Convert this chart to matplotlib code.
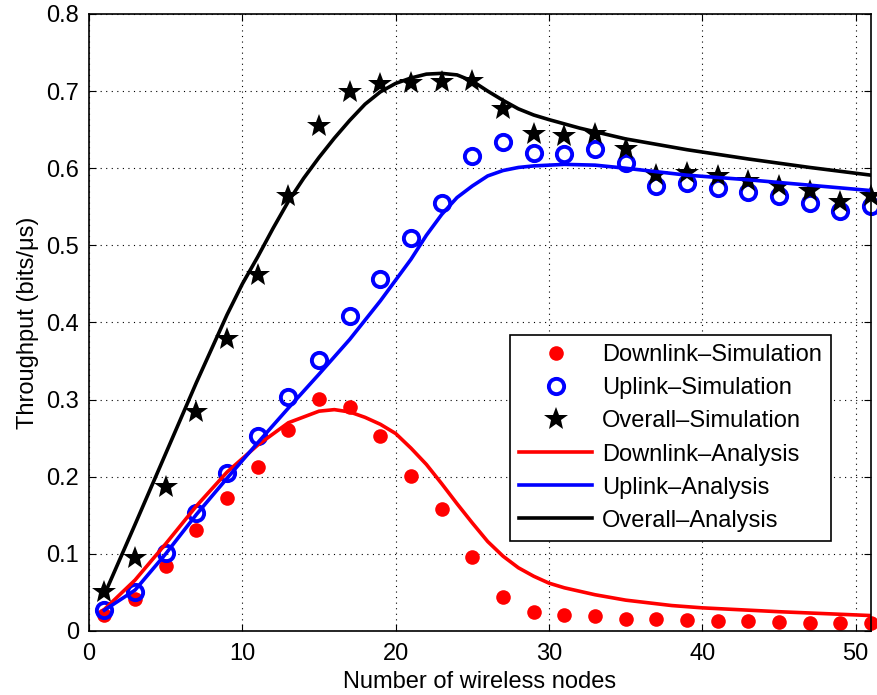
import matplotlib
matplotlib.use("Agg")
import matplotlib.pyplot as plt
from matplotlib.ticker import FuncFormatter

# simulation points (odd node counts)
sim_nodes = [1, 3, 5, 7, 9, 11, 13, 15, 17, 19, 21, 23, 25,
             27, 29, 31, 33, 35, 37, 39, 41, 43, 45, 47, 49, 51]
downlink_sim = [0.021, 0.042, 0.084, 0.131, 0.173, 0.212, 0.260, 0.301, 0.291,
                0.253, 0.201, 0.158, 0.096, 0.044, 0.025, 0.021, 0.019, 0.016,
                0.015, 0.014, 0.013, 0.013, 0.012, 0.011, 0.010, 0.010]
uplink_sim = [0.027, 0.051, 0.101, 0.153, 0.205, 0.253, 0.303, 0.352, 0.409,
              0.456, 0.509, 0.555, 0.616, 0.634, 0.620, 0.619, 0.625, 0.607,
              0.577, 0.581, 0.575, 0.569, 0.564, 0.555, 0.544, 0.551]
overall_sim = [0.051, 0.094, 0.187, 0.284, 0.378, 0.462, 0.564, 0.655, 0.699,
               0.709, 0.711, 0.712, 0.713, 0.677, 0.645, 0.642, 0.645, 0.625,
               0.591, 0.594, 0.590, 0.583, 0.577, 0.570, 0.556, 0.564]

# analysis curves
dl_nodes = [1, 3, 5, 7, 9, 11, 13, 15, 16, 17, 18, 19, 20, 21, 22, 23, 24, 25,
            26, 27, 28, 29, 30, 31, 33, 35, 38, 40, 45, 51]
downlink_ana = [0.028, 0.066, 0.113, 0.162, 0.206, 0.241, 0.270, 0.285, 0.287,
                0.284, 0.277, 0.268, 0.256, 0.237, 0.216, 0.191, 0.165, 0.140,
                0.116, 0.097, 0.082, 0.071, 0.062, 0.056, 0.047, 0.040, 0.033,
                0.030, 0.025, 0.020]
ul_nodes = [1, 3, 5, 7, 9, 11, 13, 15, 17, 19, 20, 21, 22, 23, 24, 25, 26, 27,
            28, 29, 31, 33, 35, 39, 43, 47, 51]
uplink_ana = [0.027, 0.053, 0.100, 0.151, 0.198, 0.244, 0.289, 0.333, 0.378,
              0.428, 0.455, 0.482, 0.513, 0.540, 0.562, 0.577, 0.590, 0.597,
              0.601, 0.603, 0.605, 0.604, 0.600, 0.591, 0.585, 0.578, 0.571]
ov_nodes = [1, 3, 5, 7, 9, 10, 11, 12, 13, 14, 15, 16, 17, 18, 19, 20, 21, 22,
            23, 24, 25, 26, 27, 28, 29, 30, 32, 35, 39, 43, 47, 51]
overall_ana = [0.047, 0.138, 0.230, 0.322, 0.410, 0.450, 0.485, 0.522, 0.557,
               0.587, 0.614, 0.639, 0.662, 0.683, 0.699, 0.710, 0.717, 0.722,
               0.723, 0.721, 0.713, 0.700, 0.688, 0.677, 0.669, 0.663, 0.652,
               0.638, 0.624, 0.612, 0.601, 0.591]

plt.rcParams["font.family"] = ["Liberation Sans", "DejaVu Sans"]
FS = 17

fig = plt.figure(figsize=(8.77, 6.95), dpi=100)
ax = fig.add_axes([0.1015, 0.0921, 0.8917, 0.8878])

ax.plot(sim_nodes, downlink_sim, "o", color="red", markersize=10.5,
        markeredgewidth=0, linestyle="none", clip_on=False,
        label="Downlink\u2013Simulation")
ax.plot(sim_nodes, uplink_sim, "o", color="blue", markerfacecolor="none",
        markersize=11, markeredgewidth=2.8, linestyle="none", clip_on=False,
        label="Uplink\u2013Simulation")
ax.plot(sim_nodes, overall_sim, "*", color="black", markersize=18,
        markeredgewidth=0, linestyle="none", clip_on=False,
        label="Overall\u2013Simulation")
ax.plot(dl_nodes, downlink_ana, "-", color="red", linewidth=2.6,
        label="Downlink\u2013Analysis")
ax.plot(ul_nodes, uplink_ana, "-", color="blue", linewidth=2.6,
        label="Uplink\u2013Analysis")
ax.plot(ov_nodes, overall_ana, "-", color="black", linewidth=2.6,
        label="Overall\u2013Analysis")

ax.set_xlim(0, 51)
ax.set_ylim(0, 0.8)
ax.set_xticks([0, 10, 20, 30, 40, 50])
ax.set_yticks([0, 0.1, 0.2, 0.3, 0.4, 0.5, 0.6, 0.7, 0.8])
ax.yaxis.set_major_formatter(FuncFormatter(lambda v, p: "0" if v == 0 else f"{v:g}"))
ax.tick_params(direction="in", top=True, right=True, labelsize=FS,
               length=5, width=0.8)
ax.tick_params(axis="x", pad=9)
ax.tick_params(axis="y", pad=7)
ax.grid(True, linestyle=(0, (1, 4)), color="black", linewidth=0.8)
for s in ax.spines.values():
    s.set_linewidth(1.2)

ax.set_xlabel("Number of wireless nodes", fontsize=FS, labelpad=4)
ax.set_ylabel("Throughput (bits/\u03bcs)", fontsize=FS, labelpad=5)

leg = ax.legend(loc="upper left", bbox_to_anchor=(0.538, 0.480),
                borderaxespad=0, fontsize=FS, fancybox=False, framealpha=1,
                edgecolor="black", handlelength=3.1, handletextpad=0.4,
                labelspacing=0.47, borderpad=0.4, numpoints=1)
leg.get_frame().set_linewidth(1.2)

fig.savefig("out.png", dpi=100)
